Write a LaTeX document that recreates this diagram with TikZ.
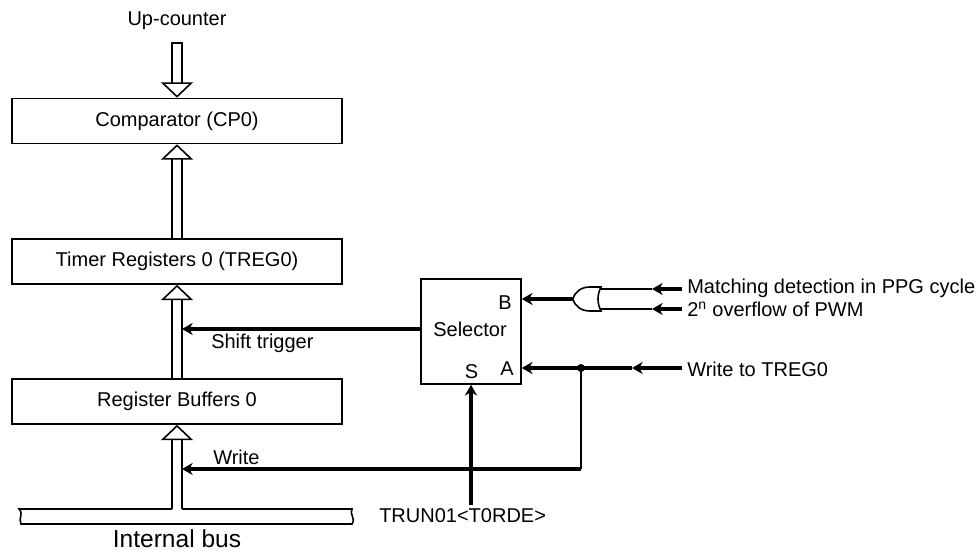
\documentclass[tikz,border=0pt]{standalone}
\usepackage{fontspec}
\setmainfont{Liberation Sans}
\usetikzlibrary{arrows.meta,positioning}
\tikzset{
  regbox/.style={draw, line width=1.2pt, minimum width=247.5pt, minimum height=33.75pt, inner sep=0pt},
  buslink/.style={draw, line width=1.2pt, double, double distance=6pt, -{Triangle[open, length=11.5pt, width=24pt, line width=1.2pt]}},
  sigthick/.style={line width=2.4pt, -{Stealth[length=8pt, width=9pt, inset=2.5pt]}},
  sigthin/.style={line width=1.2pt},
  lbl/.style={inner sep=0pt, font=\fontsize{15}{17}\selectfont},
  lblright/.style={lbl, anchor=west},
}
\begin{document}
\begin{tikzpicture}[x=0.75pt, y=-0.75pt]
  \useasboundingbox (0,0) rectangle (976,552);
  % registers
  \node[regbox, lbl] (cmp) at (177,121) {Comparator (CP0)};
  \node[regbox, lbl] (treg) at (177,261.5) {Timer Registers 0 (TREG0)};
  \node[regbox, lbl] (rbuf) at (177,401.5) {Register Buffers 0};
  \node[lbl] (upc) at (177,21) {Up-counter};
  \coordinate (upin) at (177,43);
  \coordinate (busjoin) at (177,509);
  % internal bus
  \draw[line width=1.2pt] (172,509) -- (19,509) .. controls (24,514) and (18,518) .. (21,524)
    -- (352,524) .. controls (356,518) and (349,514) .. (352,509) -- (182,509);
  \node[inner sep=0pt, font=\fontsize{18.4}{21}\selectfont] (ibus) at (177,539) {Internal bus};
  % wide arrows
  \draw[buslink] (upin) -- (cmp.north);
  \draw[line width=1.2pt] ([xshift=-4.2pt]upin) -- ([xshift=4.2pt]upin);
  \draw[buslink] (treg.north) -- (cmp.south);
  \draw[buslink] (rbuf.north) -- (treg.south);
  \draw[buslink] (busjoin) -- (rbuf.south);
  % selector
  \node[draw, line width=1.2pt, minimum width=75pt, minimum height=78.75pt, inner sep=0pt] (sel) at (471,331.5) {};
  \node[lbl] (seltxt) at (470,329) {Selector};
  \node[lbl] (selb) at (505,303) {B};
  \node[lbl] (sela) at (507,369) {A};
  \node[lbl] (sels) at (471.5,372) {S};
  % or gate
  \coordinate (orout) at (573,299);
  \coordinate (orina) at (600,289);
  \coordinate (orinb) at (600,309);
  \draw[line width=1.2pt] (orout) .. controls (575,291) and (582,287) .. (590,287) -- (601,287)
    .. controls (597,295) and (597,303) .. (601,311) -- (590,311)
    .. controls (582,311) and (575,307) .. (orout);
  % inputs
  \node[lblright] (mat) at (687,288) {Matching detection in PPG cycle};
  \node[lblright] (ovf) at (687,309) {2\textsuperscript{n} overflow of PWM};
  \node[lblright] (wrt) at (687,369) {Write to TREG0};
  \coordinate (mata) at (682,289);
  \coordinate (ovfa) at (682,309);
  \coordinate (wrta) at (682,368);
  \coordinate (matm) at (652,289);
  \coordinate (ovfm) at (652,309);
  \coordinate (wrtm) at (632,368);
  \draw[sigthin] (matm) -- (orina);
  \draw[sigthin] (ovfm) -- (orinb);
  \draw[sigthick] (mata) -- (matm);
  \draw[sigthick] (ovfa) -- (ovfm);
  \draw[sigthick] (orout) -- (orout -| sel.east);
  \draw[sigthick] (wrta) -- (wrtm);
  \draw[sigthick] (wrtm) -- (wrtm -| sel.east);
  % shift trigger and write
  \coordinate (shft) at (182,329);
  \coordinate (wrtin) at (182,469);
  \coordinate (wrtc) at (581,469);
  \fill (581,368) circle (3pt) coordinate (dot);
  \draw[sigthick] (sel.west |- shft) -- (shft);
  \node[lblright] (shtxt) at (211,343) {Shift trigger};
  \draw[line width=1.5pt] (dot) -- (wrtc);
  \draw[sigthick] (wrtc) -- (wrtin);
  \node[lblright] (wrtxt) at (213,457) {Write};
  \coordinate (trun) at (471,505);
  \draw[sigthick] (trun) -- (sel.south);
  \node[lblright] (truntxt) at (379,516) {TRUN01<T0RDE>};
\end{tikzpicture}
\end{document}
